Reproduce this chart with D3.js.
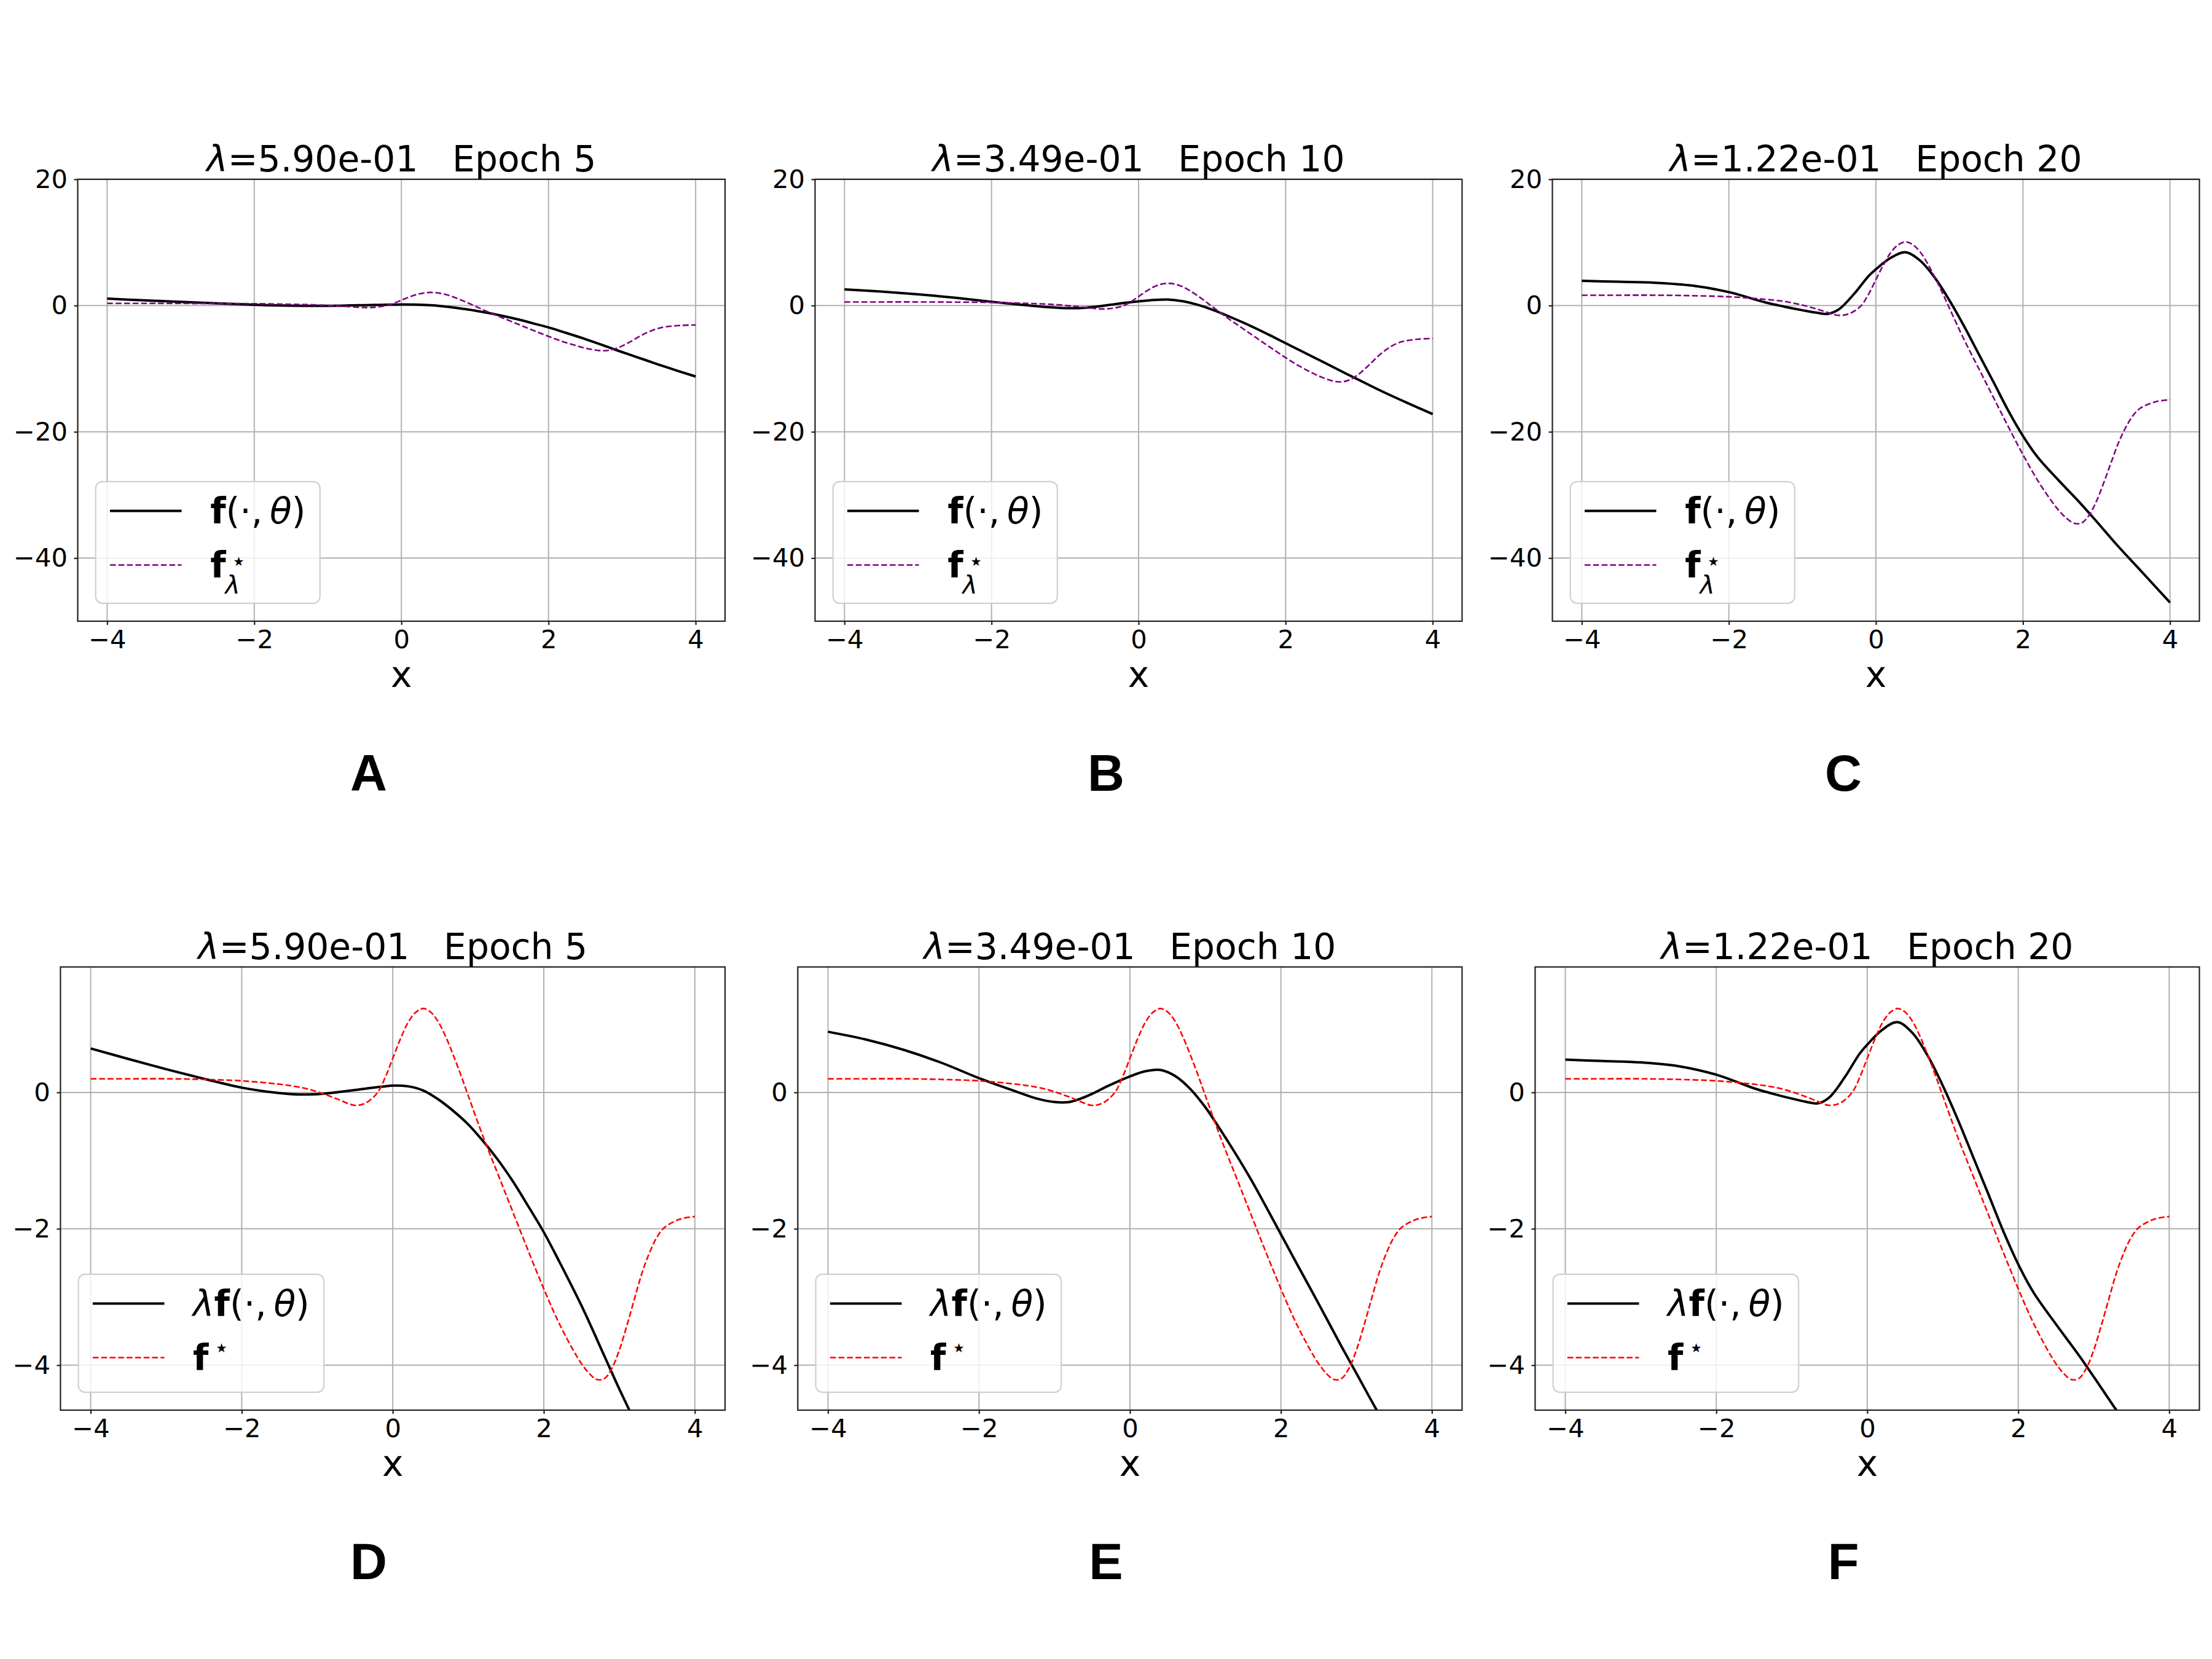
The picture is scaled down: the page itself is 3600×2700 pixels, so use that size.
<!DOCTYPE html>
<html>
<head>
<meta charset="utf-8">
<title>lambda f vs f-star, epochs 5 / 10 / 20</title>
<script src="https://cdn.jsdelivr.net/npm/d3@7"></script>
<style>
  body { margin: 0; background: #fff; }
  text { font-family: "DejaVu Sans", sans-serif; fill: #000; }
</style>
</head>
<body>
<svg id="fig" width="3600" height="2700"></svg>
<script>

// ---- values ----
var lambdaLabels = ["5.90e-01", "3.49e-01", "1.22e-01"];
var epochs = [5, 10, 20];
var panelLetters = ["A", "B", "C", "D", "E", "F"];

var xTicks = [-4, -2, 0, 2, 4];
var yTicksTop = [20, 0, -20, -40];
var yTicksBottom = [0, -2, -4];

// target curve f* (bottom row, red dashed)
var starX = [-4, -3.5, -3, -2.5, -2, -1.5, -1.25, -1, -0.75, -0.5, -0.35, -0.2, -0.1, 0, 0.1,
  0.2, 0.3, 0.4, 0.5, 0.6, 0.7, 0.8, 0.9, 1.0, 1.2, 1.4, 1.6, 1.8, 2.0, 2.2,
  2.4, 2.5, 2.6, 2.7, 2.8, 2.9, 3.0, 3.1, 3.2, 3.3, 3.4, 3.5, 3.6, 3.8, 4.0];
var fStar = [0.20, 0.20, 0.20, 0.19, 0.17, 0.12, 0.08, 0.01, -0.09, -0.19, -0.15, 0.00, 0.22, 0.50, 0.78,
  1.02, 1.17, 1.23, 1.18, 1.04, 0.82, 0.55, 0.26, -0.05, -0.66, -1.22, -1.78, -2.34, -2.88, -3.38,
  -3.80, -3.98, -4.12, -4.21, -4.20, -4.05, -3.78, -3.42, -3.03, -2.65, -2.35, -2.12, -1.98, -1.86, -1.82];

// f*_lambda (top row, purple dashed)
var fStarLamA = [0.34, 0.34, 0.34, 0.32, 0.29, 0.20, 0.14, 0.02, -0.15, -0.32, -0.25, 0.00, 0.37, 0.85, 1.32,
  1.73, 1.98, 2.08, 2.00, 1.76, 1.39, 0.93, 0.44, -0.08, -1.12, -2.07, -3.02, -3.97, -4.88, -5.73,
  -6.44, -6.75, -6.98, -7.14, -7.12, -6.86, -6.41, -5.80, -5.14, -4.49, -3.98, -3.59, -3.36, -3.15, -3.08];
var fStarLamB = [0.57, 0.57, 0.57, 0.54, 0.49, 0.34, 0.23, 0.03, -0.26, -0.54, -0.43, 0.00, 0.63, 1.43, 2.23,
  2.92, 3.35, 3.52, 3.38, 2.98, 2.35, 1.58, 0.74, -0.14, -1.89, -3.50, -5.10, -6.70, -8.25, -9.68,
  -10.89, -11.40, -11.80, -12.06, -12.03, -11.60, -10.83, -9.80, -8.68, -7.59, -6.73, -6.07, -5.67, -5.33, -5.21];
var fStarLamC = [1.64, 1.64, 1.64, 1.56, 1.39, 0.98, 0.66, 0.08, -0.74, -1.56, -1.23, 0.00, 1.80, 4.10, 6.39,
  8.36, 9.59, 10.08, 9.67, 8.52, 6.72, 4.51, 2.13, -0.41, -5.41, -10.00, -14.59, -19.18, -23.61, -27.70,
  -31.15, -32.62, -33.77, -34.51, -34.43, -33.20, -30.98, -28.03, -24.84, -21.72, -19.26, -17.38, -16.23, -15.25, -14.92];

// network output f(.,theta) (top row) and lambda*f(.,theta) (bottom row), black
var thetaX = [-4, -3.5, -3, -2.5, -2, -1.5, -1.25, -1, -0.8, -0.65, -0.5, -0.3, -0.1, 0, 0.2,
  0.4, 0.6, 0.8, 1.0, 1.2, 1.4, 1.6, 1.8, 2.0, 2.2, 2.5, 2.8, 3.0, 3.3, 3.6, 4.0];
var fThetaA = [1.09, 0.83, 0.58, 0.34, 0.12, -0.02, -0.05, -0.04, -0.01, 0.03, 0.06, 0.11, 0.15, 0.17, 0.15,
  0.05, -0.17, -0.46, -0.80, -1.22, -1.70, -2.24, -2.85, -3.47, -4.19, -5.31, -6.54, -7.37, -8.56, -9.75, -11.24];
var fThetaB = [2.55, 2.22, 1.79, 1.25, 0.60, 0.03, -0.24, -0.40, -0.40, -0.26, -0.06, 0.26, 0.54, 0.67, 0.89,
  0.95, 0.69, 0.14, -0.63, -1.58, -2.58, -3.64, -4.78, -5.96, -7.13, -8.88, -10.66, -11.80, -13.52, -15.13, -17.19];
var fThetaC = [3.93, 3.77, 3.61, 3.16, 2.13, 0.49, -0.16, -0.74, -1.15, -1.31, -0.57, 1.80, 4.67, 5.74, 7.54,
  8.44, 7.13, 4.43, 0.82, -3.28, -7.71, -12.13, -16.64, -20.66, -24.02, -27.87, -31.56, -34.18, -38.20, -41.97, -47.05];
var lamFThetaD = [0.645, 0.49, 0.34, 0.20, 0.07, -0.01, -0.03, -0.025, -0.005, 0.015, 0.035, 0.065, 0.09, 0.10, 0.09,
  0.03, -0.10, -0.27, -0.47, -0.72, -1.00, -1.32, -1.68, -2.05, -2.47, -3.13, -3.86, -4.35, -5.05, -5.75, -6.63];
var lamFThetaE = [0.89, 0.776, 0.625, 0.436, 0.21, 0.01, -0.085, -0.14, -0.14, -0.09, -0.02, 0.09, 0.19, 0.235, 0.31,
  0.33, 0.24, 0.05, -0.22, -0.55, -0.90, -1.27, -1.67, -2.08, -2.49, -3.10, -3.72, -4.12, -4.72, -5.28, -6.00];
var lamFThetaF = [0.48, 0.46, 0.44, 0.385, 0.26, 0.06, -0.02, -0.09, -0.14, -0.16, -0.07, 0.22, 0.57, 0.70, 0.92,
  1.03, 0.87, 0.54, 0.10, -0.40, -0.94, -1.48, -2.03, -2.52, -2.93, -3.40, -3.85, -4.17, -4.66, -5.12, -5.74];

// ---- layout ----
var svg = d3.select("#fig");
svg.append("rect").attr("width", 3600).attr("height", 2700).attr("fill", "#fff");

var FS = 58.3;      // title, legend, axis label
var TICK_FS = 41.7;
var LW = 4, DLW = 2.6, DASH = "9.6,4.2";
var colRight = [1180, 2379.5, 3579.5];
var colLeftTop = [126.5, 1326.5, 2526.5];
var colLeftBottom = [98.4, 1298.4, 2498.4];
var rows = [
  { top: 291.8, bottom: 1011, ydom: [-50, 20], yticks: yTicksTop, legendH: 198 },
  { top: 1573.7, bottom: 2295, ydom: [-4.66, 1.84], yticks: yTicksBottom, legendH: 192 }
];

var topBlack = [fThetaA, fThetaB, fThetaC];
var topPurple = [fStarLamA, fStarLamB, fStarLamC];
var bottomBlack = [lamFThetaD, lamFThetaE, lamFThetaF];

var clipId = 0;

function drawPanel(r, c) {
  var row = rows[r];
  var left = r === 0 ? colLeftTop[c] : colLeftBottom[c];
  var right = colRight[c];
  var x = d3.scaleLinear().domain([-4.4, 4.4]).range([left, right]);
  var y = d3.scaleLinear().domain(row.ydom).range([row.bottom, row.top]);
  var g = svg.append("g");

  // grid
  g.selectAll(".gx").data(xTicks).enter().append("line")
    .attr("x1", d => x(d)).attr("x2", d => x(d))
    .attr("y1", row.top).attr("y2", row.bottom)
    .attr("stroke", "#b0b0b0").attr("stroke-width", 2);
  g.selectAll(".gy").data(row.yticks).enter().append("line")
    .attr("x1", left).attr("x2", right)
    .attr("y1", d => y(d)).attr("y2", d => y(d))
    .attr("stroke", "#b0b0b0").attr("stroke-width", 2);

  // curves, clipped to the axes box
  var id = "clip" + (clipId++);
  svg.append("clipPath").attr("id", id).append("rect")
    .attr("x", left).attr("y", row.top).attr("width", right - left).attr("height", row.bottom - row.top);

  var line = d3.line().curve(d3.curveCatmullRom.alpha(0.5));
  var blackY = r === 0 ? topBlack[c] : bottomBlack[c];
  var dashY = r === 0 ? topPurple[c] : fStar;
  var dashColor = r === 0 ? "purple" : "red";

  g.append("path")
    .attr("clip-path", "url(#" + id + ")")
    .attr("d", line(thetaX.map((v, i) => [x(v), y(blackY[i])])))
    .attr("fill", "none").attr("stroke", "#000").attr("stroke-width", LW);
  g.append("path")
    .attr("clip-path", "url(#" + id + ")")
    .attr("d", line(starX.map((v, i) => [x(v), y(dashY[i])])))
    .attr("fill", "none").attr("stroke", dashColor).attr("stroke-width", DLW)
    .attr("stroke-dasharray", DASH);

  // frame
  g.append("rect").attr("x", left).attr("y", row.top)
    .attr("width", right - left).attr("height", row.bottom - row.top)
    .attr("fill", "none").attr("stroke", "#222").attr("stroke-width", 2.2);

  // axes
  var ax = g.append("g").attr("transform", "translate(0," + row.bottom + ")")
    .call(d3.axisBottom(x).tickValues(xTicks).tickSize(6).tickPadding(8).tickFormat(d3.format("d")));
  var ay = g.append("g").attr("transform", "translate(" + left + ",0)")
    .call(d3.axisLeft(y).tickValues(row.yticks).tickSize(6).tickPadding(10.5).tickFormat(d3.format("d")));
  [ax, ay].forEach(a => {
    a.select(".domain").remove();
    a.selectAll(".tick line").attr("stroke", "#222").attr("stroke-width", 2.2);
    a.selectAll("text").style("font-family", "DejaVu Sans").style("font-size", TICK_FS + "px").attr("fill", "#000");
  });

  // title
  var cx = (left + right) / 2;
  var t = g.append("text").attr("x", cx).attr("y", row.top - 13)
    .attr("text-anchor", "middle").style("font-size", FS + "px").style("white-space", "pre");
  t.append("tspan").style("font-style", "italic").text("λ");
  t.append("tspan").text("=" + lambdaLabels[c] + "   Epoch " + epochs[c]);

  // x label
  g.append("text").attr("x", cx).attr("y", row.bottom + 107)
    .attr("text-anchor", "middle").style("font-size", FS + "px").text("x");

  // legend
  var boxLeft = left + 0.5 * FS;
  var boxBottom = row.bottom - 0.5 * FS;
  var boxTop = boxBottom - row.legendH;
  var lg = g.append("g");
  var box = lg.append("rect").attr("x", boxLeft).attr("y", boxTop).attr("height", row.legendH)
    .attr("rx", 11).attr("ry", 11)
    .attr("fill", "#fff").attr("fill-opacity", 0.8)
    .attr("stroke", "#d0d0d0").attr("stroke-width", 2.2);
  var hx0 = boxLeft + 0.4 * FS, hx1 = hx0 + 2 * FS, tx = hx1 + 0.8 * FS;
  var y1 = boxTop + 47.6, y2 = y1 + 88;
  lg.append("line").attr("x1", hx0).attr("x2", hx1).attr("y1", y1).attr("y2", y1)
    .attr("stroke", "#000").attr("stroke-width", LW);
  lg.append("line").attr("x1", hx0).attr("x2", hx1).attr("y1", y2).attr("y2", y2)
    .attr("stroke", dashColor).attr("stroke-width", DLW).attr("stroke-dasharray", DASH);

  var l1 = lg.append("text").attr("x", tx).attr("y", y1 + 21).style("font-size", FS + "px").style("white-space", "pre");
  if (r === 1) l1.append("tspan").style("font-style", "italic").text("λ");
  l1.append("tspan").style("font-weight", "bold").text("f");
  l1.append("tspan").text("(·,\u2009");
  l1.append("tspan").style("font-style", "italic").text("θ");
  l1.append("tspan").text(")");

  // f with star superscript (and lambda subscript on the top row), one text element
  var l2 = lg.append("text").attr("x", tx).attr("y", y2 + 21).style("font-size", FS + "px");
  var fSpan = l2.append("tspan").style("font-weight", "bold").text("f");
  var fw = fSpan.node().getComputedTextLength();
  var rise = r === 0 ? 13 : 23;
  var sSpan = l2.append("tspan").style("font-size", (0.7 * FS) + "px").attr("dy", -rise).text("⋆");
  var sw = sSpan.node().getComputedTextLength();
  sSpan.attr("dx", 21 - sw / 2);
  if (r === 0) {
    l2.append("tspan").style("font-size", (0.7 * FS) + "px").style("font-style", "italic")
      .attr("dx", -22 - sw / 2).attr("dy", rise + 26).text("λ");
  }
  var w = l1.node().getComputedTextLength();
  box.attr("width", tx + w + 0.4 * FS - boxLeft);

  // panel letter
  svg.append("text").attr("x", 600 + 1200 * c).attr("y", r === 0 ? 1287 : 2570)
    .attr("text-anchor", "middle")
    .style("font-family", "'Liberation Sans', Arial, sans-serif")
    .style("font-weight", "bold").style("font-size", "83px")
    .text(panelLetters[r * 3 + c]);
}

for (var r = 0; r < 2; r++) {
  for (var c = 0; c < 3; c++) drawPanel(r, c);
}
</script>
</body>
</html>
